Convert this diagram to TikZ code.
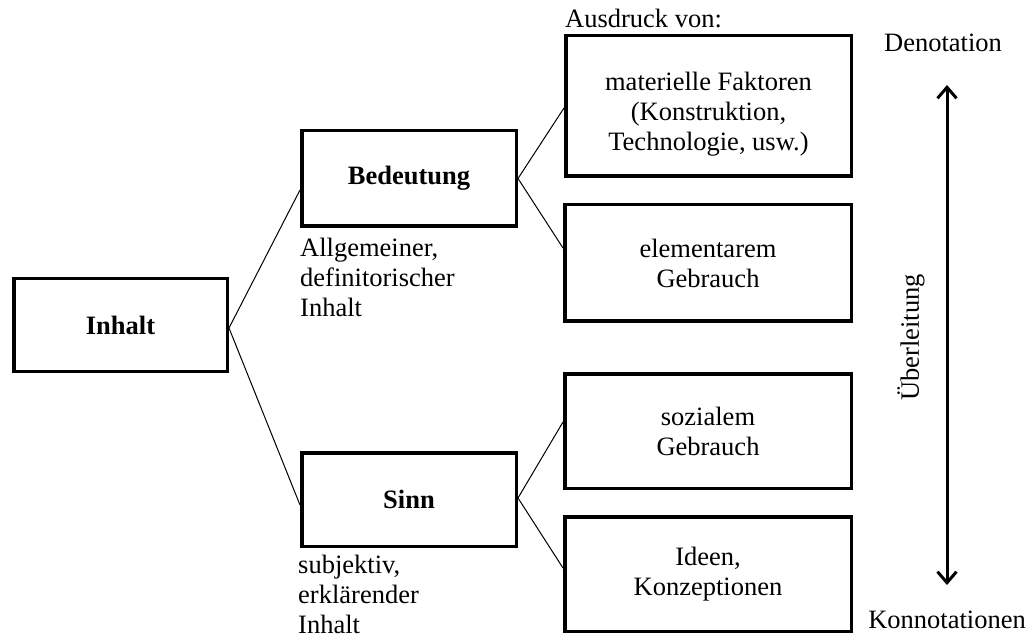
\documentclass[tikz,border=0pt]{standalone}
\usepackage{fontspec}
\setmainfont{Liberation Serif}
\usetikzlibrary{arrows.meta}
\begin{document}
\begin{tikzpicture}[x=1pt,y=-1pt,
  box/.style={draw=black,line width=3.5pt,rectangle,inner sep=0pt,align=center,
    font=\fontsize{26.5}{30}\selectfont},
  lbl/.style={inner sep=0pt,font=\fontsize{26.5}{30}\selectfont},
  conn/.style={draw=black,line width=1pt}]
\useasboundingbox (0,0) rectangle (1029,639);
% boxes
\node[box,minimum width=213.5pt,minimum height=92.5pt] (inh) at (120.5,325) {\textbf{Inhalt}};
\node[box,minimum width=214.5pt,minimum height=95.5pt] (bed) at (409,178.5) {\textbf{Bedeutung}};
\node[box,minimum width=214.5pt,minimum height=93.5pt] (sinn) at (409,499.5) {\textbf{Sinn}};
\node[box,minimum width=285.5pt,minimum height=140.5pt] (mat) at (708.5,106) {\raisebox{0pt}[\dimexpr\height+18pt\relax][\depth]{\begin{tabular}{@{}c@{}}materielle Faktoren\\(Konstruktion,\\Technologie, usw.)\end{tabular}}};
\node[box,minimum width=286.5pt,minimum height=116.5pt] (elem) at (708,263) {elementarem\\Gebrauch};
\node[box,minimum width=286.5pt,minimum height=114.5pt] (soz) at (708,431) {sozialem\\Gebrauch};
\node[box,minimum width=286.5pt,minimum height=114.5pt] (ide) at (708,574) {Ideen,\\Konzeptionen};
% labels
\node[lbl,anchor=base west] (aus) at (565,28) {Ausdruck von:};
\node[lbl,anchor=base west] (allg) at (300,257) {\begin{tabular}[t]{@{}l@{}}Allgemeiner,\\definitorischer\\Inhalt\end{tabular}};
\node[lbl,anchor=base west] (subj) at (298,573) {\begin{tabular}[t]{@{}l@{}}subjektiv,\\erklärender\\Inhalt\end{tabular}};
\node[lbl,anchor=base] (deno) at (943,52) {Denotation};
\node[lbl,anchor=base] (konn) at (947,628) {Konnotationen};
\node[lbl,rotate=90,anchor=center] (ueb) at (911,337.5) {Überleitung};
% connectors
\draw[conn] ([yshift=-3pt]inh.east) -- ([yshift=-11.5pt]bed.west);
\draw[conn] ([yshift=-3pt]inh.east) -- ([yshift=-5.5pt]sinn.west);
\draw[conn] (bed.east) -- ([yshift=-2pt]mat.west);
\draw[conn] (bed.east) -- ([yshift=15pt]elem.west);
\draw[conn] ([yshift=1.5pt]sinn.east) -- ([yshift=9pt]soz.west);
\draw[conn] ([yshift=1.5pt]sinn.east) -- ([yshift=6pt]ide.west);
% arrow
\coordinate (atop) at (947,85);
\coordinate (abot) at (947,585);
\draw[line width=3pt,{Straight Barb[length=11pt,width=19pt]}-{Straight Barb[length=11pt,width=19pt]}] (atop) -- (abot);
\end{tikzpicture}
\end{document}
